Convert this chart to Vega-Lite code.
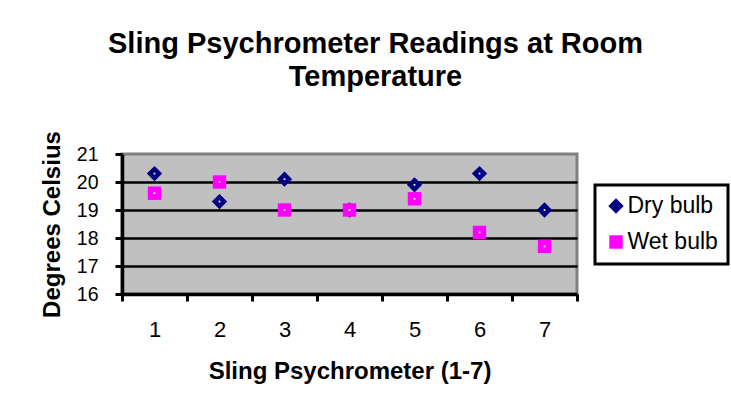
{
  "$schema": "https://vega.github.io/schema/vega-lite/v6.json",
  "width": 455,
  "height": 140,
  "autosize": {"type": "none"},
  "padding": {"left": 122, "top": 154, "right": 154, "bottom": 116},
  "background": "white",
  "title": {
    "text": ["Sling Psychrometer Readings at Room", "Temperature"],
    "font": "Liberation Sans",
    "fontSize": 29,
    "fontWeight": "bold",
    "color": "black",
    "lineHeight": 33,
    "offset": 39,
    "dx": 26,
    "anchor": "middle"
  },
  "data": {
    "values": [
      {"sensor": 1, "series": "Dry bulb", "celsius": 20.3},
      {"sensor": 2, "series": "Dry bulb", "celsius": 19.3},
      {"sensor": 3, "series": "Dry bulb", "celsius": 20.1},
      {"sensor": 4, "series": "Dry bulb", "celsius": 19.0},
      {"sensor": 5, "series": "Dry bulb", "celsius": 19.9},
      {"sensor": 6, "series": "Dry bulb", "celsius": 20.3},
      {"sensor": 7, "series": "Dry bulb", "celsius": 19.0},
      {"sensor": 1, "series": "Wet bulb", "celsius": 19.6},
      {"sensor": 2, "series": "Wet bulb", "celsius": 20.0},
      {"sensor": 3, "series": "Wet bulb", "celsius": 19.0},
      {"sensor": 4, "series": "Wet bulb", "celsius": 19.0},
      {"sensor": 5, "series": "Wet bulb", "celsius": 19.4},
      {"sensor": 6, "series": "Wet bulb", "celsius": 18.2},
      {"sensor": 7, "series": "Wet bulb", "celsius": 17.7}
    ]
  },
  "encoding": {
    "x": {
      "field": "sensor",
      "type": "ordinal",
      "scale": {"paddingInner": 0, "paddingOuter": 0},
      "axis": {
        "title": "Sling Psychrometer (1-7)",
        "labelAngle": 0,
        "labelFont": "Liberation Sans",
        "labelFontSize": 22,
        "labelColor": "black",
        "labelPadding": 18,
        "tickBand": "extent",
        "tickSize": 7,
        "tickWidth": 3,
        "tickColor": "black",
        "domainColor": "black",
        "domainWidth": 3.5,
        "titleFont": "Liberation Sans",
        "titleFontSize": 24,
        "titleFontWeight": "bold",
        "titleColor": "black",
        "titlePadding": 19
      }
    },
    "y": {
      "field": "celsius",
      "type": "quantitative",
      "scale": {"domain": [16, 21], "nice": false, "zero": false},
      "axis": {
        "title": "Degrees Celsius",
        "values": [16, 17, 18, 19, 20, 21],
        "labelFont": "Liberation Sans",
        "labelFontSize": 19.5,
        "labelColor": "black",
        "labelPadding": 17,
        "tickSize": 7,
        "tickWidth": 3,
        "tickColor": "black",
        "domainColor": "black",
        "domainWidth": 3.5,
        "grid": true,
        "gridColor": "black",
        "gridWidth": 2.5,
        "gridOpacity": {"condition": {"test": "datum.value === 21 || datum.value === 16", "value": 0}, "value": 1},
        "titleFont": "Liberation Sans",
        "titleFontSize": 24,
        "titleFontWeight": "bold",
        "titleColor": "black",
        "titlePadding": 12
      }
    }
  },
  "layer": [
    {
      "mark": {"type": "point", "filled": true, "opacity": 1},
      "encoding": {
        "color": {
          "field": "series",
          "type": "nominal",
          "scale": {"domain": ["Dry bulb", "Wet bulb"], "range": ["#000080", "#FF00FF"]},
          "legend": {
            "title": null,
            "orient": "none",
            "legendX": 473,
            "legendY": 31,
            "labelFont": "Liberation Sans",
            "labelFontSize": 23,
            "labelColor": "black",
            "labelOffset": 0,
            "rowPadding": 12,
            "padding": 9.5,
            "strokeColor": "black",
            "fillColor": "white"
          }
        },
        "shape": {
          "field": "series",
          "type": "nominal",
          "scale": {"domain": ["Dry bulb", "Wet bulb"], "range": ["diamond", "square"]}
        },
        "size": {
          "field": "series",
          "type": "nominal",
          "scale": {"domain": ["Dry bulb", "Wet bulb"], "range": [235, 180]}
        }
      }
    },
    {
      "mark": {"type": "square", "color": "white", "size": 3, "opacity": 1},
      "encoding": {}
    }
  ],
  "config": {
    "view": {"fill": "#C0C0C0", "stroke": "#808080", "strokeWidth": 3},
    "legend": {"strokeWidth": 3}
  }
}
